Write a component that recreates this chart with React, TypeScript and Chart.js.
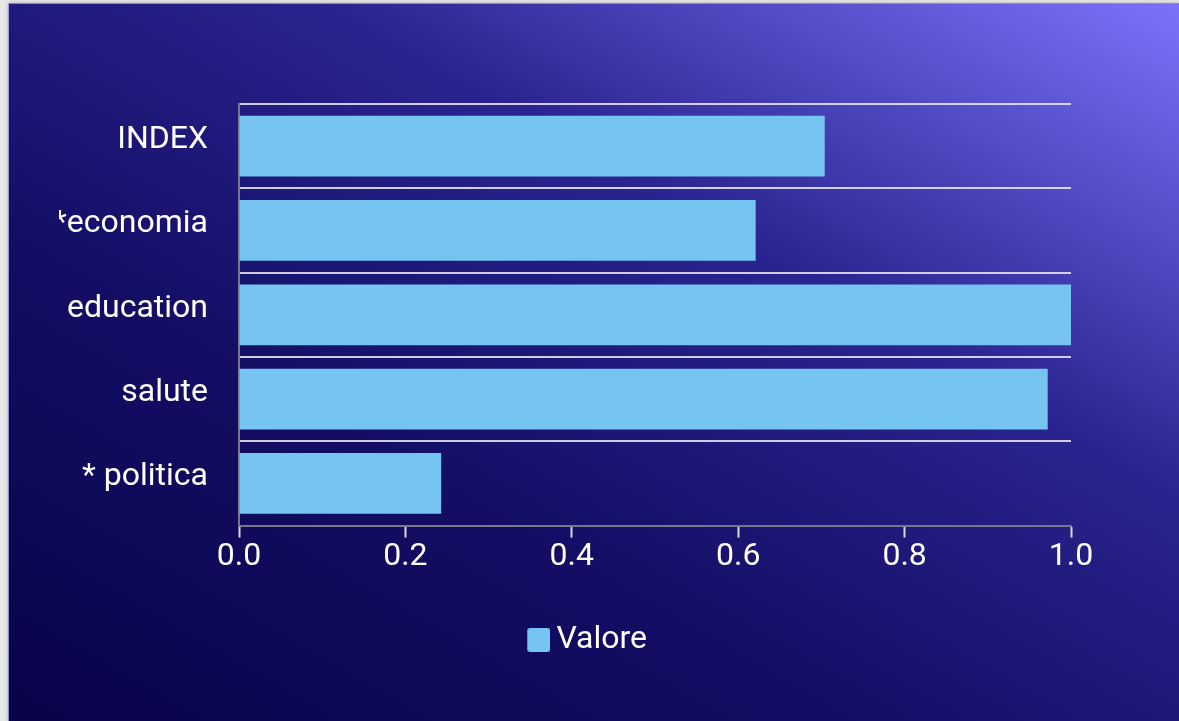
import React, { useEffect, useRef } from 'react';
import { Chart, registerables } from 'chart.js';

Chart.register(...registerables);

const categories = ['INDEX', '*economia', 'education', 'salute', '* politica'];
const values = [0.704, 0.621, 1.0, 0.972, 0.243];
const seriesName = 'Valore';
const xTickValues = [0, 0.2, 0.4, 0.6, 0.8, 1.0];

const BAR_COLOR = '#76c4f2';
const FONT = 'Roboto';
const FONT_SIZE = 32;

export default function App() {
  const ref = useRef<HTMLCanvasElement>(null);

  useEffect(() => {
    document.body.style.background = '#e8e8e8';
    // legend marker image: transparent left part, rounded square on the right
    const marker = document.createElement('canvas');
    marker.width = 77;
    marker.height = 24;
    const mctx = marker.getContext('2d')!;
    mctx.fillStyle = BAR_COLOR;
    mctx.beginPath();
    (mctx as any).roundRect(54, 0, 23, 24, 3);
    mctx.fill();

    const chart = new Chart(ref.current!, {
      type: 'bar',
      data: {
        labels: categories,
        datasets: [
          {
            label: seriesName,
            data: values,
            backgroundColor: BAR_COLOR,
            borderWidth: 0,
          },
        ],
      },
      options: {
        indexAxis: 'y',
        responsive: false,
        animation: false,
        devicePixelRatio: 1,
        layout: { padding: { top: 100, right: 44, bottom: 56, left: 0 } },
        font: { family: FONT, size: FONT_SIZE },
        color: '#ffffff',
        scales: {
          x: {
            min: 0,
            max: 1,
            afterBuildTicks: (scale: any) => {
              scale.ticks = xTickValues.map((v) => ({ value: v }));
            },
            ticks: {
              color: '#ffffff',
              font: { family: FONT, size: FONT_SIZE },
              padding: 0,
              maxRotation: 0,
              callback: (v: any) => Number(v).toFixed(1),
            },
            grid: {
              display: true,
              drawOnChartArea: false,
              drawTicks: true,
              tickLength: 12,
              tickWidth: 2,
              tickColor: '#d8d8e0',
            },
            border: { display: true, color: '#77778a', width: 2 },
          },
          y: {
            afterFit: (scale: any) => {
              scale.width = 180;
            },
            ticks: {
              color: '#ffffff',
              font: { family: FONT, size: FONT_SIZE },
              padding: 31,
              labelOffset: -6,
            },
            grid: {
              display: true,
              drawTicks: false,
              color: 'rgba(225,225,235,0.9)',
              lineWidth: 2,
            },
            border: { display: true, color: '#77778a', width: 2 },
          },
        },
        plugins: {
          legend: {
            display: true,
            position: 'bottom',
            labels: {
              color: '#ffffff',
              font: { family: FONT, size: FONT_SIZE },
              usePointStyle: true,
              pointStyle: marker as any,
              pointStyleWidth: 57.5,
              padding: 48,
            },
          },
          tooltip: { enabled: false },
        },
      } as any,
    });
    return () => chart.destroy();
  }, []);

  return (
    <div
      style={{
        position: 'fixed',
        left: 8,
        top: 3,
        right: 0,
        bottom: 0,
        overflow: 'hidden',
        background:
          'linear-gradient(30deg, #08034a 0%, #130e64 35%, #2a2490 65%, #7a73fa 100%)',
        borderTop: '1px solid rgba(170,170,215,0.8)',
        borderLeft: '1px solid rgba(170,170,215,0.8)',
        boxShadow: '0 0 4px rgba(0,0,0,0.25)',
      }}
    >
      <canvas
        ref={ref}
        width={1056}
        height={718}
        style={{ position: 'absolute', left: 50, top: 0, width: 1056, height: 718 }}
      />
    </div>
  );
}
